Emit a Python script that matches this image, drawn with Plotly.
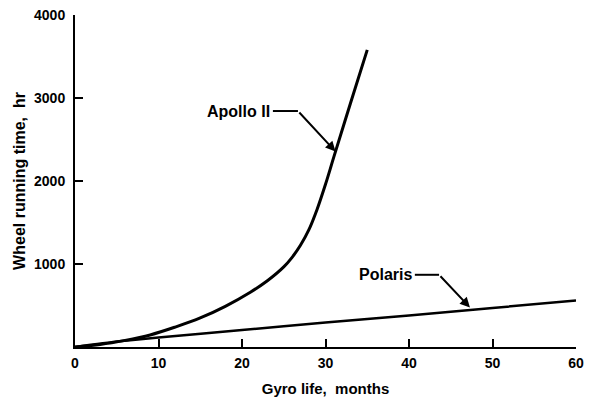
import numpy as np
import plotly.graph_objects as go

# Data
apollo_months = [0, 3, 6, 9, 12, 15, 18, 21, 23, 25, 26, 27, 28, 29, 30, 31, 33, 35]
apollo_hours = [0, 30, 80, 145, 240, 350, 490, 660, 795, 965, 1080, 1225, 1410, 1660, 1960, 2290, 2940, 3580]

polaris_months = [0, 5, 10, 20, 30, 40, 50, 60]
polaris_hours = [0, 65, 115, 205, 295, 380, 470, 560]

x_ticks = [0, 10, 20, 30, 40, 50, 60]
y_ticks = [1000, 2000, 3000, 4000]

FONT = "Liberation Sans, Arial, sans-serif"

fig = go.Figure()
fig.add_trace(go.Scatter(x=apollo_months, y=apollo_hours, mode="lines",
                         line=dict(color="black", width=3, shape="spline", smoothing=1.0),
                         cliponaxis=False, showlegend=False))
fig.add_trace(go.Scatter(x=polaris_months, y=polaris_hours, mode="lines",
                         line=dict(color="black", width=2.5, shape="spline", smoothing=0.5),
                         cliponaxis=False, showlegend=False))

# Callouts (tip on curve, elbow, label)
ap_tip_x = 31.2
ap_tip_y = float(np.interp(ap_tip_x, apollo_months, apollo_hours))
pol_tip_x = 47.3
pol_tip_y = float(np.interp(pol_tip_x, polaris_months, polaris_hours)) + 30

callouts = [
    dict(text="Apollo II", lx=23.6, ly=2843, ex=26.7, tx=ap_tip_x, ty=ap_tip_y),
    dict(text="Polaris", lx=40.6, ly=870, ex=43.6, tx=pol_tip_x, ty=pol_tip_y),
]
for c in callouts:
    fig.add_annotation(x=c["lx"], y=c["ly"], xref="x", yref="y", text="<b>%s</b>" % c["text"],
                       showarrow=False, xanchor="right", yanchor="middle",
                       font=dict(family=FONT, size=16, color="black"))
    fig.add_shape(type="line", x0=c["lx"] + 0.1, x1=c["ex"], y0=c["ly"], y1=c["ly"],
                  xref="x", yref="y", line=dict(color="black", width=2))
    fig.add_annotation(x=c["tx"], y=c["ty"], ax=c["ex"], ay=c["ly"], xref="x", yref="y",
                       axref="x", ayref="y", text="", showarrow=True, arrowhead=2,
                       arrowsize=1, arrowwidth=2, arrowcolor="black")

# The page body adds an 8px offset, so the figure is sized/margined to compensate.
fig.update_layout(
    width=584, height=395,
    margin=dict(l=67, r=16, t=7, b=56),
    paper_bgcolor="white", plot_bgcolor="white",
    font=dict(family=FONT, size=14, color="black"),
    xaxis=dict(range=[0, 60], tickvals=x_ticks, ticktext=["<b>%d</b>" % v for v in x_ticks],
               ticks="inside", ticklen=8, tickwidth=1.5, tickcolor="black",
               showline=True, linewidth=2, linecolor="black", showgrid=False, zeroline=False,
               automargin=False, ticklabelstandoff=2, ticklabeloverflow="allow",
               title=dict(text="<b>Gyro life,  months</b>", standoff=14,
                          font=dict(family=FONT, size=15))),
    yaxis=dict(range=[0, 4000], tickvals=y_ticks, ticktext=["<b>%d</b>" % v for v in y_ticks],
               ticks="inside", ticklen=8, tickwidth=1.5, tickcolor="black",
               showline=True, linewidth=2, linecolor="black", showgrid=False, zeroline=False,
               automargin=False, ticklabelstandoff=5, ticklabeloverflow="allow",
               title=dict(text="<b>Wheel running time,  hr</b>", standoff=4,
                          font=dict(family=FONT, size=16))),
)

fig.write_html("out.html")
